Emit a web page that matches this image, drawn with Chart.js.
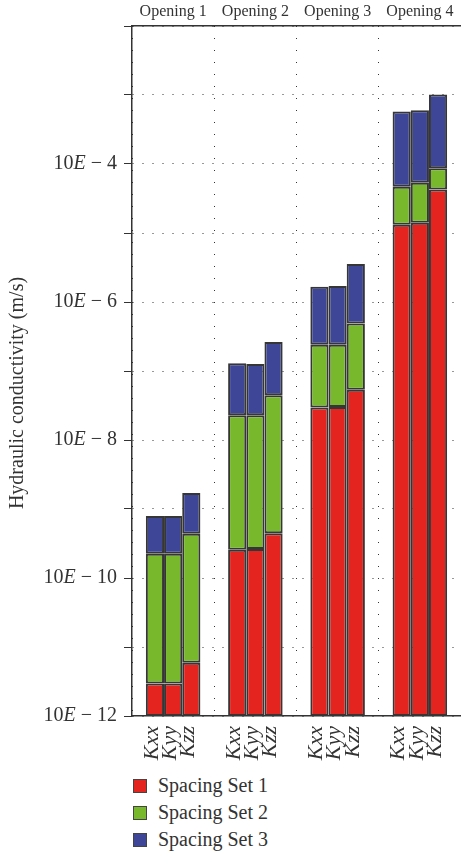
<!DOCTYPE html>
<html>
<head>
<meta charset="utf-8">
<script src="https://cdn.jsdelivr.net/npm/chart.js@4.4.1/dist/chart.umd.min.js"></script>
<style>
  body { margin: 0; background: #fff; }
  #legend { margin-left: 133px; font: 20px "Liberation Serif", serif; color: #333; }
  #legend div { height: 27px; line-height: 27px; display: flex; align-items: center; }
  #legend span.box { width: 12px; height: 12px; border: 1px solid #444; margin-right: 11px; }
</style>
</head>
<body>
<canvas id="chart" width="461" height="772"></canvas>
<div id="legend"></div>
<script>
// hydraulic conductivity (m/s), top of each spacing-set segment
const openings = ['Opening 1', 'Opening 2', 'Opening 3', 'Opening 4'];
const components = ['Kxx', 'Kyy', 'Kzz'];
const baseK = 1e-12;

const set1Kxx = [2.95e-12, 2.57e-10, 2.95e-8, 1.32e-5];
const set1Kyy = [2.95e-12, 2.63e-10, 3.02e-8, 1.41e-5];
const set1Kzz = [5.89e-12, 4.47e-10, 5.37e-8, 4.27e-5];

const set2Kxx = [2.24e-10, 2.29e-8, 2.40e-7, 4.68e-5];
const set2Kyy = [2.24e-10, 2.29e-8, 2.40e-7, 5.37e-5];
const set2Kzz = [4.37e-10, 4.47e-8, 4.90e-7, 8.71e-5];

const set3Kxx = [7.94e-10, 1.29e-7, 1.66e-6, 5.75e-4];
const set3Kyy = [7.94e-10, 1.26e-7, 1.70e-6, 6.03e-4];
const set3Kzz = [1.70e-9, 2.63e-7, 3.55e-6, 1.02e-3];

const decades = [-12, -11, -10, -9, -8, -7, -6, -5, -4, -3, -2];
const labelledDecades = [-12, -10, -8, -6, -4];

const setNames = ['Spacing Set 1', 'Spacing Set 2', 'Spacing Set 3'];
const setColors = ['#e4241f', '#77b82c', '#3e4797'];

const tops = [
    [set1Kxx, set1Kyy, set1Kzz],
    [set2Kxx, set2Kyy, set2Kzz],
    [set3Kxx, set3Kyy, set3Kzz]
];

const datasets = [];
tops.forEach((setTops, s) => {
    setTops.forEach((vals, c) => {
        datasets.push({
            label: setNames[s],
            stack: components[c],
            data: vals.map((v, i) => [s === 0 ? baseK : tops[s - 1][c][i], v]),
            backgroundColor: setColors[s],
            borderColor: '#363636',
            borderWidth: 2,
            borderSkipped: false,
            categoryPercentage: 0.663,
            barPercentage: 1.0
        });
    });
});

const serif = '"Liberation Serif", serif';

// y tick labels with italic E, axis title and Kxx/Kyy/Kzz labels
const textPlugin = {
    id: 'textPlugin',
    afterDraw(chart) {
        const ctx = chart.ctx;
        const y = chart.scales.y;
        ctx.save();
        ctx.fillStyle = '#333';
        ctx.textBaseline = 'middle';
        labelledDecades.forEach(e => {
            const py = y.getPixelForValue(Math.pow(10, e));
            const rest = ' \u2212 ' + Math.abs(e);
            ctx.font = '20px ' + serif;
            const w1 = ctx.measureText('10').width;
            const w3 = ctx.measureText(rest).width;
            ctx.font = 'italic 20px ' + serif;
            const w2 = ctx.measureText('E').width;
            let x = 117 - (w1 + w2 + w3);
            ctx.textAlign = 'left';
            ctx.font = '20px ' + serif;
            ctx.fillText('10', x, py);
            ctx.font = 'italic 20px ' + serif;
            ctx.fillText('E', x + w1, py);
            ctx.font = '20px ' + serif;
            ctx.fillText(rest, x + w1 + w2, py);
        });

        // axis title
        ctx.save();
        ctx.translate(18, 393);
        ctx.rotate(-Math.PI / 2);
        ctx.textAlign = 'center';
        ctx.font = '20px ' + serif;
        ctx.fillText('Hydraulic conductivity (m/s)', 0, 0);
        ctx.restore();

        // component labels under each bar
        ctx.font = 'italic 22px ' + serif;
        components.forEach((name, c) => {
            const meta = chart.getDatasetMeta(c);
            meta.data.forEach(bar => {
                ctx.save();
                ctx.translate(bar.x - 3, 726);
                ctx.rotate(-Math.PI / 2);
                ctx.textAlign = 'right';
                ctx.textBaseline = 'middle';
                ctx.fillText(name, 0, 0);
                ctx.restore();
            });
        });
        ctx.restore();
    }
};

const ctx = document.getElementById('chart').getContext('2d');
const chart = new Chart(ctx, {
    type: 'bar',
    data: {
        labels: openings,
        datasets: datasets
    },
    options: {
        responsive: false,
        animation: false,
        layout: { padding: 0 },
        plugins: {
            legend: { display: false },
            tooltip: { enabled: false }
        },
        scales: {
            x: {
                type: 'category',
                stacked: true,
                offset: true,
                grid: {
                    display: true,
                    offset: true,
                    drawTicks: false,
                    color: '#333',
                    lineWidth: 1
                },
                border: { display: true, color: '#333', width: 1.5, dash: [1, 11] },
                ticks: { display: false },
                afterFit(scale) { scale.height = 56; }
            },
            x2: {
                type: 'category',
                position: 'top',
                labels: openings,
                offset: true,
                grid: { display: false, offset: true, drawTicks: false },
                border: { display: true, color: '#333', width: 1.5 },
                ticks: {
                    color: '#333',
                    font: { family: serif, size: 16 },
                    padding: 5
                },
                afterFit(scale) { scale.height = 26; }
            },
            y: {
                type: 'logarithmic',
                stacked: false,
                min: 1e-12,
                max: 1e-2,
                afterBuildTicks(scale) {
                    scale.ticks = decades.map(e => ({ value: Math.pow(10, e) }));
                },
                grid: {
                    color: '#333',
                    lineWidth: 1,
                    drawTicks: true,
                    tickLength: 8,
                    tickColor: '#333',
                    tickWidth: 1,
                    tickBorderDash: []
                },
                border: { display: true, color: '#333', width: 1.5, dash: [1, 9] },
                ticks: { display: false },
                afterFit(scale) { scale.width = 132; }
            }
        }
    },
    plugins: [textPlugin]
});

// legend
const legend = document.getElementById('legend');
setNames.forEach((name, s) => {
    const row = document.createElement('div');
    const box = document.createElement('span');
    box.className = 'box';
    box.style.background = setColors[s];
    row.appendChild(box);
    row.appendChild(document.createTextNode(name));
    legend.appendChild(row);
});
</script>
</body>
</html>
